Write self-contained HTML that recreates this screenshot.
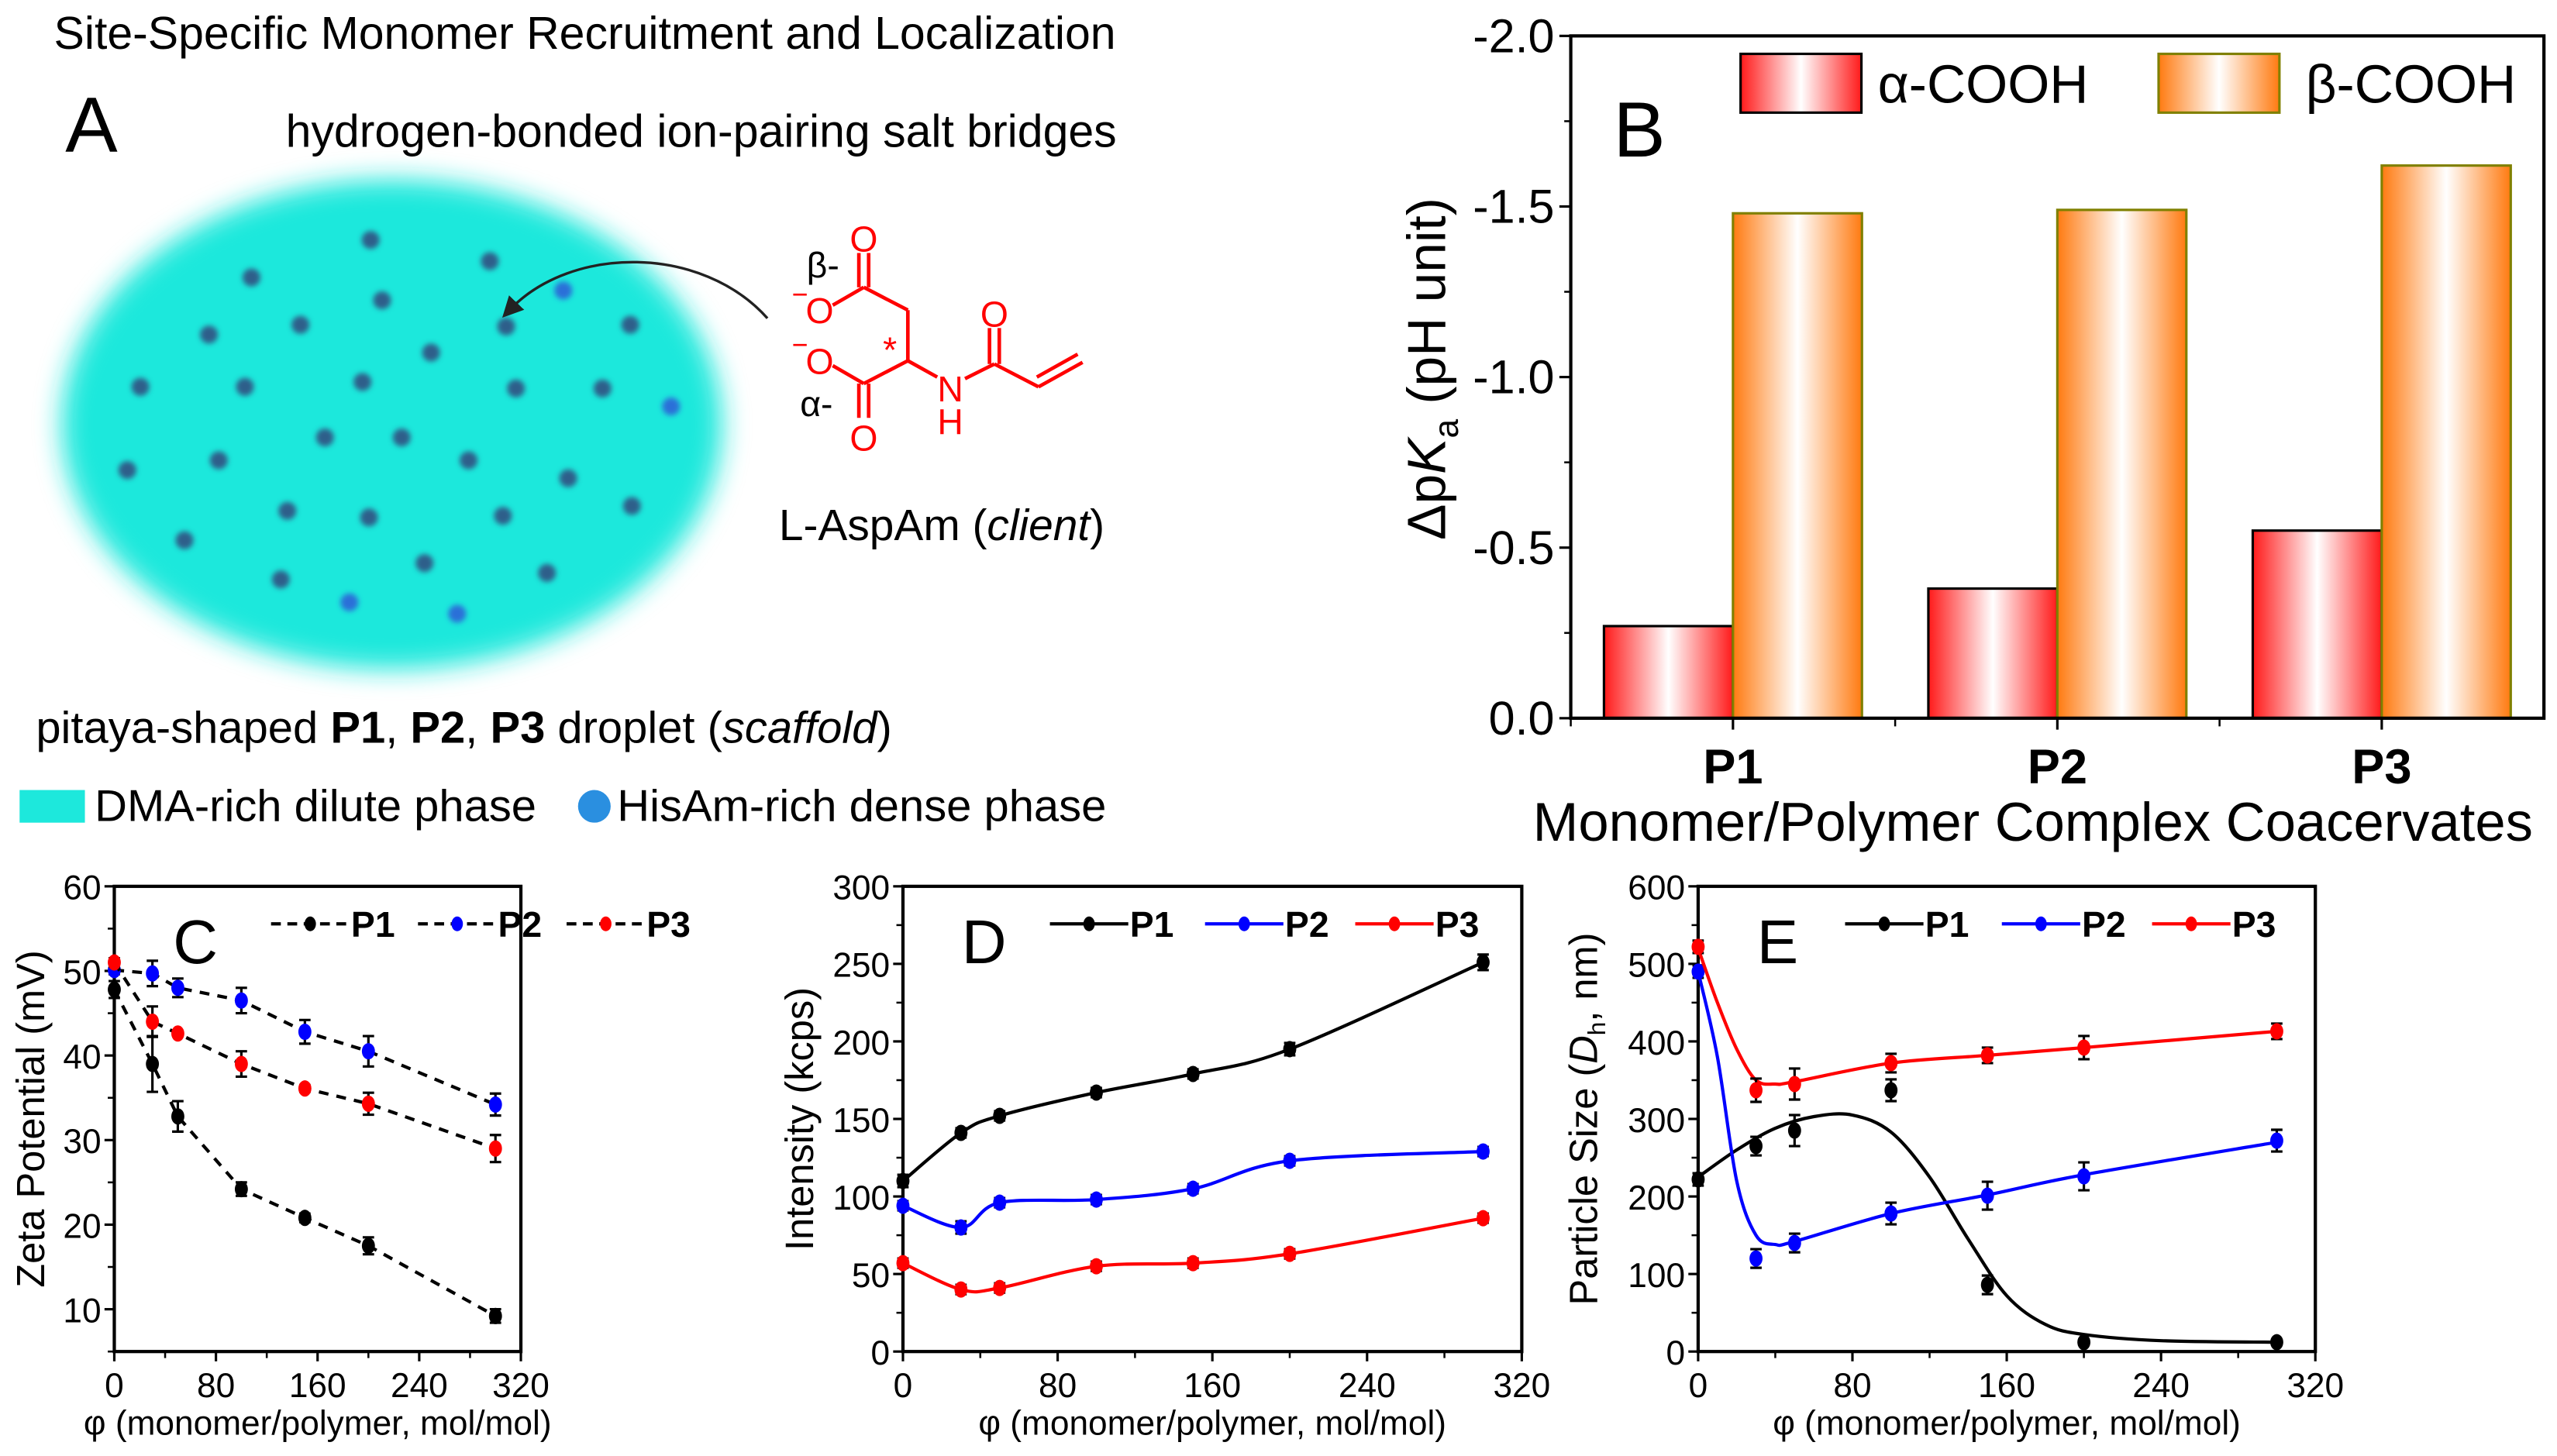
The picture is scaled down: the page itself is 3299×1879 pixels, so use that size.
<!DOCTYPE html>
<html><head><meta charset="utf-8">
<style>
html,body{margin:0;padding:0;background:#fff;}
svg{display:block;}
text{font-family:"Liberation Sans",Arial,sans-serif;}
</style></head>
<body>
<svg id="fig" width="3299" height="1879" viewBox="0 0 1566 892" preserveAspectRatio="none" xmlns="http://www.w3.org/2000/svg">
<defs>
  <linearGradient id="gA" x1="0" x2="1" y1="0" y2="0">
    <stop offset="0" stop-color="#ff1a1a"/><stop offset="0.5" stop-color="#ffffff"/><stop offset="1" stop-color="#ff1a1a"/>
  </linearGradient>
  <linearGradient id="gB" x1="0" x2="1" y1="0" y2="0">
    <stop offset="0" stop-color="#ff7a10"/><stop offset="0.5" stop-color="#ffffff"/><stop offset="1" stop-color="#ff7a10"/>
  </linearGradient>
  <filter id="blur" x="-20%" y="-20%" width="140%" height="140%"><feGaussianBlur stdDeviation="8"/></filter>
  <filter id="dblur"><feGaussianBlur stdDeviation="1.6"/></filter>
  <marker id="arrowhead" markerWidth="8" markerHeight="8" refX="4" refY="4" orient="auto"><path d="M0,0 L8,4 L0,8 z" fill="#222"/></marker>
</defs>

<!-- Panel A -->
<g>
  <text x="33" y="30" font-size="28">Site-Specific Monomer Recruitment and Localization</text>
  <text x="40" y="93" font-size="48">A</text>
  <text x="175" y="90" font-size="28">hydrogen-bonded ion-pairing salt bridges</text>
  <ellipse cx="240" cy="260" rx="202" ry="150" fill="#1de8dc" filter="url(#blur)"/>
  <g id="dots" filter="url(#dblur)"></g>
  <path d="M470,195 C430,150 350,150 312,190" fill="none" stroke="#222" stroke-width="1.6" marker-end="url(#arrowhead)"/>
  <g stroke="#ff0000" stroke-width="2.2" fill="none">
    <line x1="529" y1="176" x2="510" y2="187"/>
    <line x1="529" y1="176" x2="556" y2="190"/>
    <line x1="526" y1="176" x2="526" y2="155"/><line x1="532" y1="176" x2="532" y2="155"/>
    <line x1="556" y1="190" x2="556" y2="221"/>
    <line x1="556" y1="221" x2="529" y2="235"/>
    <line x1="529" y1="235" x2="510" y2="224"/>
    <line x1="526" y1="235" x2="526" y2="256"/><line x1="532" y1="235" x2="532" y2="256"/>
    <line x1="556" y1="221" x2="574" y2="231"/>
    <line x1="591" y1="232" x2="609" y2="223"/>
    <line x1="606" y1="223" x2="606" y2="201"/><line x1="612" y1="223" x2="612" y2="201"/>
    <line x1="609" y1="223" x2="636" y2="237"/>
    <line x1="636" y1="237" x2="663" y2="222"/><line x1="635" y1="231" x2="660" y2="217"/>
  </g>
  <g fill="#ff0000" font-size="22" text-anchor="middle">
    <text x="529" y="154">O</text>
    <text x="502" y="198">O</text>
    <text x="490" y="186" font-size="17">−</text>
    <text x="502" y="229">O</text>
    <text x="490" y="217" font-size="17">−</text>
    <text x="529" y="276">O</text>
    <text x="582" y="246">N</text>
    <text x="582" y="266">H</text>
    <text x="609" y="200">O</text>
    <text x="545" y="222" font-size="22">*</text>
  </g>
  <text x="494" y="170" font-size="22">β-</text>
  <text x="490" y="255" font-size="22">α-</text>
  <text x="477" y="331" font-size="27">L-AspAm (<tspan font-style="italic">client</tspan>)</text>
  <text x="22" y="455" font-size="27.5">pitaya-shaped <tspan font-weight="bold">P1</tspan>, <tspan font-weight="bold">P2</tspan>, <tspan font-weight="bold">P3</tspan> droplet (<tspan font-style="italic">scaffold</tspan>)</text>
  <rect x="12" y="484" width="40" height="20" fill="#1de8dc"/>
  <text x="58" y="503" font-size="27.5">DMA-rich dilute phase</text>
  <circle cx="364" cy="494" r="10" fill="#2a8fe0"/>
  <text x="378" y="503" font-size="27.5">HisAm-rich dense phase</text>
</g>

<g id="panelB"></g>
<g id="panelC"></g>
<g id="panelD"></g>
<g id="panelE"></g>
</svg>

<script>
// ---------- Panel B data ----------
const bCategories = ["P1", "P2", "P3"];
const bAlpha = [0.27, 0.38, 0.55];
const bBeta = [1.48, 1.49, 1.62];
const bTicks = ["0.0", "-0.5", "-1.0", "-1.5", "-2.0"];

// ---------- Shared x ----------
const phiX = [0, 30, 50, 100, 150, 200, 300];
const xTickLabels = ["0", "80", "160", "240", "320"];

// ---------- Panel C data (zeta potential) ----------
const cP1 = [47.8, 39, 32.8, 24.2, 20.8, 17.5, 9.2];
const cP1Err = [1, 3.3, 1.8, 0.8, 0.5, 1, 0.8];
const cP2 = [50.1, 49.7, 48, 46.5, 42.8, 40.5, 34.2];
const cP2Err = [0.5, 1.5, 1.1, 1.5, 1.4, 1.8, 1.3];
const cP3 = [51, 44, 42.6, 39, 36.1, 34.3, 29];
const cP3Err = [0.5, 1.8, 0.3, 1.5, 0.4, 1.3, 1.6];
const cYTicks = ["10", "20", "30", "40", "50", "60"];

// ---------- Panel D data (intensity) ----------
const dP1 = [110, 141, 152, 167, 179, 195, 251];
const dP1Err = [4, 3, 3, 3, 3, 4, 5];
const dP2 = [94, 80, 96, 98, 105, 123, 129];
const dP2Err = [3, 4, 3, 3, 3, 3, 3];
const dP3 = [57, 40, 41, 55, 57, 63, 86];
const dP3Err = [3, 3, 3, 3, 3, 3, 3];
const dYTicks = ["0", "50", "100", "150", "200", "250", "300"];

// ---------- Panel E data (particle size) ----------
const eP1 = [222, 265, 285, 337, 86, 12, 12];
const eP1Err = [8, 12, 20, 14, 12, 3, 3];
const eP2 = [490, 120, 140, 178, 201, 226, 272];
const eP2Err = [8, 12, 12, 14, 18, 18, 14];
const eP3 = [522, 337, 345, 372, 382, 392, 413];
const eP3Err = [8, 15, 20, 12, 10, 15, 10];
const eFitX = [0, 20, 40, 60, 80, 100, 120, 140, 160, 180, 200, 240, 300];
const eFitP1 = [225, 260, 288, 303, 305, 283, 225, 145, 72, 35, 22, 14, 12];
const eFit2X = [0, 10, 20, 30, 40, 50, 100, 150, 200, 300];
const eFitP2 = [490, 380, 220, 150, 138, 142, 178, 202, 228, 270];
const eFitP3 = [520, 450, 390, 350, 345, 348, 372, 382, 392, 413];
const eYTicks = ["0", "100", "200", "300", "400", "500", "600"];

const NS = "http://www.w3.org/2000/svg";
function mk(tag, attrs, parent) {
  const e = document.createElementNS(NS, tag);
  for (const k in attrs) e.setAttribute(k, attrs[k]);
  if (parent) parent.appendChild(e);
  return e;
}

const dotsG = document.getElementById("dots");
const dotPos = [[227,147],[300,160],[154,170],[345,178],[234,184],[184,199],[128,205],[310,200],[264,216],[386,199],[86,237],[150,237],[222,234],[316,238],[369,238],[411,249],[199,268],[246,268],[287,282],[78,288],[134,282],[348,293],[176,313],[226,317],[308,316],[387,310],[113,331],[260,345],[335,351],[172,355],[214,369],[280,376]];
const blueDots = new Set([3, 15, 30, 31]);
dotPos.forEach((p, i) => {
  const c = mk("circle", {cx: p[0], cy: p[1], r: 5.5, fill: blueDots.has(i) ? "#2a6fd8" : "#2f5f8a"}, dotsG);
  
  
});

// ---------- Panel B ----------
(function () {
  const g = document.getElementById("panelB");
  const L = 962, R = 1558, T = 22, B = 440;
  const yMax = 2.0;
  const y = v => B - (v / yMax) * (B - T);
  const catW = (R - L) / 3;
  const cx = i => L + catW * (i + 0.5);
  const bw = 79;
  bCategories.forEach((c, i) => {
    const ra = mk("rect", {x: cx(i) - bw, y: y(bAlpha[i]), width: bw, height: B - y(bAlpha[i]), fill: "url(#gA)", stroke: "#000", "stroke-width": 1.5}, g);
    
    
    const rb = mk("rect", {x: cx(i), y: y(bBeta[i]), width: bw, height: B - y(bBeta[i]), fill: "url(#gB)", stroke: "#808000", "stroke-width": 1.5}, g);
    
    
    const t = mk("text", {x: cx(i), y: 480, "font-size": 30, "font-weight": "bold", "text-anchor": "middle"}, g);
    t.textContent = c;
    
    
    mk("line", {x1: cx(i), x2: cx(i), y1: B, y2: B + 7, stroke: "#000", "stroke-width": 1.5}, g);
    mk("line", {x1: L + catW * i, x2: L + catW * i, y1: B, y2: B + 5, stroke: "#000", "stroke-width": 1.2}, g);
  });
  const fr = mk("rect", {x: L, y: T, width: R - L, height: B - T, fill: "none", stroke: "#000", "stroke-width": 2}, g);
  
  
  bTicks.forEach((lab, i) => {
    const v = i * 0.5;
    mk("line", {x1: L - 7, x2: L, y1: y(v), y2: y(v), stroke: "#000", "stroke-width": 1.5}, g);
    if (i < 4) mk("line", {x1: L - 4, x2: L, y1: y(v + 0.25), y2: y(v + 0.25), stroke: "#000", "stroke-width": 1.2}, g);
    const t = mk("text", {x: L - 10, y: y(v) + 10, "font-size": 29, "text-anchor": "end"}, g);
    t.textContent = lab;
    
    
  });
  const yt = mk("text", {transform: "translate(885,226) rotate(-90)", "font-size": 33, "text-anchor": "middle"}, g);
  yt.innerHTML = 'Δp<tspan font-style="italic">K</tspan><tspan font-size="21" dy="8">a</tspan><tspan dy="-8"> (pH unit)</tspan>';
  
  
  const xt = mk("text", {x: 1245, y: 515, "font-size": 33.5, "text-anchor": "middle"}, g);
  xt.textContent = "Monomer/Polymer Complex Coacervates";
  
  
  const pl = mk("text", {x: 988, y: 96, "font-size": 48}, g);
  pl.textContent = "B";
  
  
  const la = mk("rect", {x: 1066, y: 33, width: 74, height: 36, fill: "url(#gA)", stroke: "#000", "stroke-width": 1.5}, g);
  
  
  const lat = mk("text", {x: 1150, y: 63, "font-size": 33}, g);
  lat.textContent = "α-COOH";
  
  
  const lb = mk("rect", {x: 1322, y: 33, width: 74, height: 36, fill: "url(#gB)", stroke: "#808000", "stroke-width": 1.5}, g);
  
  
  const lbt = mk("text", {x: 1412, y: 63, "font-size": 33}, g);
  lbt.textContent = "β-COOH";
  
  
})();

function smoothPath(pts) {
  let d = "M" + pts[0][0] + "," + pts[0][1];
  for (let i = 0; i < pts.length - 1; i++) {
    const p0 = pts[i - 1] || pts[i], p1 = pts[i], p2 = pts[i + 1], p3 = pts[i + 2] || p2;
    const c1x = p1[0] + (p2[0] - p0[0]) / 6, c1y = p1[1] + (p2[1] - p0[1]) / 6;
    const c2x = p2[0] - (p3[0] - p1[0]) / 6, c2y = p2[1] - (p3[1] - p1[1]) / 6;
    d += " C" + c1x + "," + c1y + " " + c2x + "," + c2y + " " + p2[0] + "," + p2[1];
  }
  return d;
}

function lineChart(cfg) {
  const g = document.getElementById(cfg.id);
  const {L, R, T, B, yMin, yMax} = cfg;
  const x = v => L + (v / 320) * (R - L);
  const y = v => B - ((v - yMin) / (yMax - yMin)) * (B - T);
  xTickLabels.forEach((lab, i) => {
    const v = i * 80;
    mk("line", {x1: x(v), x2: x(v), y1: B, y2: B + 6, stroke: "#000", "stroke-width": 1.5}, g);
    if (i < 4) mk("line", {x1: x(v + 40), x2: x(v + 40), y1: B, y2: B + 4, stroke: "#000", "stroke-width": 1.2}, g);
    const t = mk("text", {x: x(v), y: B + 28, "font-size": 21, "text-anchor": "middle"}, g);
    t.textContent = lab;
    
    
  });
  cfg.yTicks.forEach((lab, i) => {
    const v = parseFloat(lab);
    mk("line", {x1: L - 6, x2: L, y1: y(v), y2: y(v), stroke: "#000", "stroke-width": 1.5}, g);
    const mv = v - cfg.yStep / 2;
    if (mv >= yMin) mk("line", {x1: L - 4, x2: L, y1: y(mv), y2: y(mv), stroke: "#000", "stroke-width": 1.2}, g);
    const t = mk("text", {x: L - 8, y: y(v) + 8, "font-size": 21, "text-anchor": "end"}, g);
    t.textContent = lab;
    
    
  });
  const fr = mk("rect", {x: L, y: T, width: R - L, height: B - T, fill: "none", stroke: "#000", "stroke-width": 2}, g);
  
  
  const yt = mk("text", {transform: "translate(" + cfg.ytX + "," + ((T + B) / 2) + ") rotate(-90)", "font-size": 24, "text-anchor": "middle"}, g);
  yt.innerHTML = cfg.yTitle;
  
  
  const xt = mk("text", {x: (L + R) / 2, y: 879, "font-size": 21, "text-anchor": "middle"}, g);
  xt.textContent = "φ (monomer/polymer, mol/mol)";
  
  
  const pl = mk("text", {x: L + 36, y: 590, "font-size": 38}, g);
  pl.textContent = cfg.label;
  
  
  cfg.series.forEach((s, si) => {
    const sg = mk("g", {}, g);
    
    
    let d;
    if (cfg.dashed) {
      d = "M" + phiX.map((v, i) => x(v) + "," + y(s.vals[i])).join(" L");
    } else {
      const fx = s.fitX || phiX, fy = s.fit || s.vals;
      d = smoothPath(fx.map((v, i) => [x(v), y(fy[i])]));
    }
    const ln = mk("path", {d: d, fill: "none", stroke: cfg.dashed ? "#000" : s.color, "stroke-width": 2, "stroke-dasharray": cfg.dashed ? "6,5" : "none"}, sg);
    
    
    phiX.forEach((v, i) => {
      const e = mk("path", {d: "M" + x(v) + "," + y(s.vals[i] - s.err[i]) + " V" + y(s.vals[i] + s.err[i]) + " M" + (x(v) - 3.5) + "," + y(s.vals[i] - s.err[i]) + " h7 M" + (x(v) - 3.5) + "," + y(s.vals[i] + s.err[i]) + " h7", stroke: "#000", "stroke-width": 1.5, fill: "none"}, sg);
      
      
      const c = mk("ellipse", {cx: x(v), cy: y(s.vals[i]), rx: 4, ry: 5, fill: s.color}, sg);
      
      
    });
    const lx = cfg.legX[si], ly = 566;
    const lg = mk("g", {}, g);
    
    
    mk("line", {x1: lx, x2: lx + 48, y1: ly, y2: ly, stroke: cfg.dashed ? "#000" : s.color, "stroke-width": 2, "stroke-dasharray": cfg.dashed ? "6,4" : "none"}, lg);
    mk("ellipse", {cx: lx + 24, cy: ly, rx: 3.5, ry: 4.5, fill: s.color}, lg);
    const lt = mk("text", {x: lx + 49, y: ly + 8, "font-size": 22, "font-weight": "bold"}, lg);
    lt.textContent = s.name;
  });
}

lineChart({id: "panelC", L: 70, R: 319, T: 543, B: 828, yMin: 5, yMax: 60, yStep: 10, yTicks: cYTicks, dashed: true,
  yTitle: "Zeta Potential (mV)", ytX: 27, label: "C", legX: [166, 256, 347],
  series: [{name: "P1", color: "#000", vals: cP1, err: cP1Err}, {name: "P2", color: "#0000ff", vals: cP2, err: cP2Err}, {name: "P3", color: "#ff0000", vals: cP3, err: cP3Err}]});

lineChart({id: "panelD", L: 553, R: 932, T: 543, B: 828, yMin: 0, yMax: 300, yStep: 50, yTicks: dYTicks, dashed: false,
  yTitle: "Intensity (kcps)", ytX: 498, label: "D", legX: [643, 738, 830],
  series: [{name: "P1", color: "#000", vals: dP1, err: dP1Err}, {name: "P2", color: "#0000ff", vals: dP2, err: dP2Err}, {name: "P3", color: "#ff0000", vals: dP3, err: dP3Err}]});

lineChart({id: "panelE", L: 1040, R: 1418, T: 543, B: 828, yMin: 0, yMax: 600, yStep: 100, yTicks: eYTicks, dashed: false,
  yTitle: 'Particle Size (<tspan font-style="italic">D</tspan><tspan font-size="15" dy="5">h</tspan><tspan dy="-5">, nm)</tspan>', ytX: 978, label: "E", legX: [1130, 1226, 1318],
  series: [{name: "P1", color: "#000", vals: eP1, err: eP1Err, fitX: eFitX, fit: eFitP1},
           {name: "P2", color: "#0000ff", vals: eP2, err: eP2Err, fitX: eFit2X, fit: eFitP2},
           {name: "P3", color: "#ff0000", vals: eP3, err: eP3Err, fitX: eFit2X, fit: eFitP3}]});
</script>
</body></html>
